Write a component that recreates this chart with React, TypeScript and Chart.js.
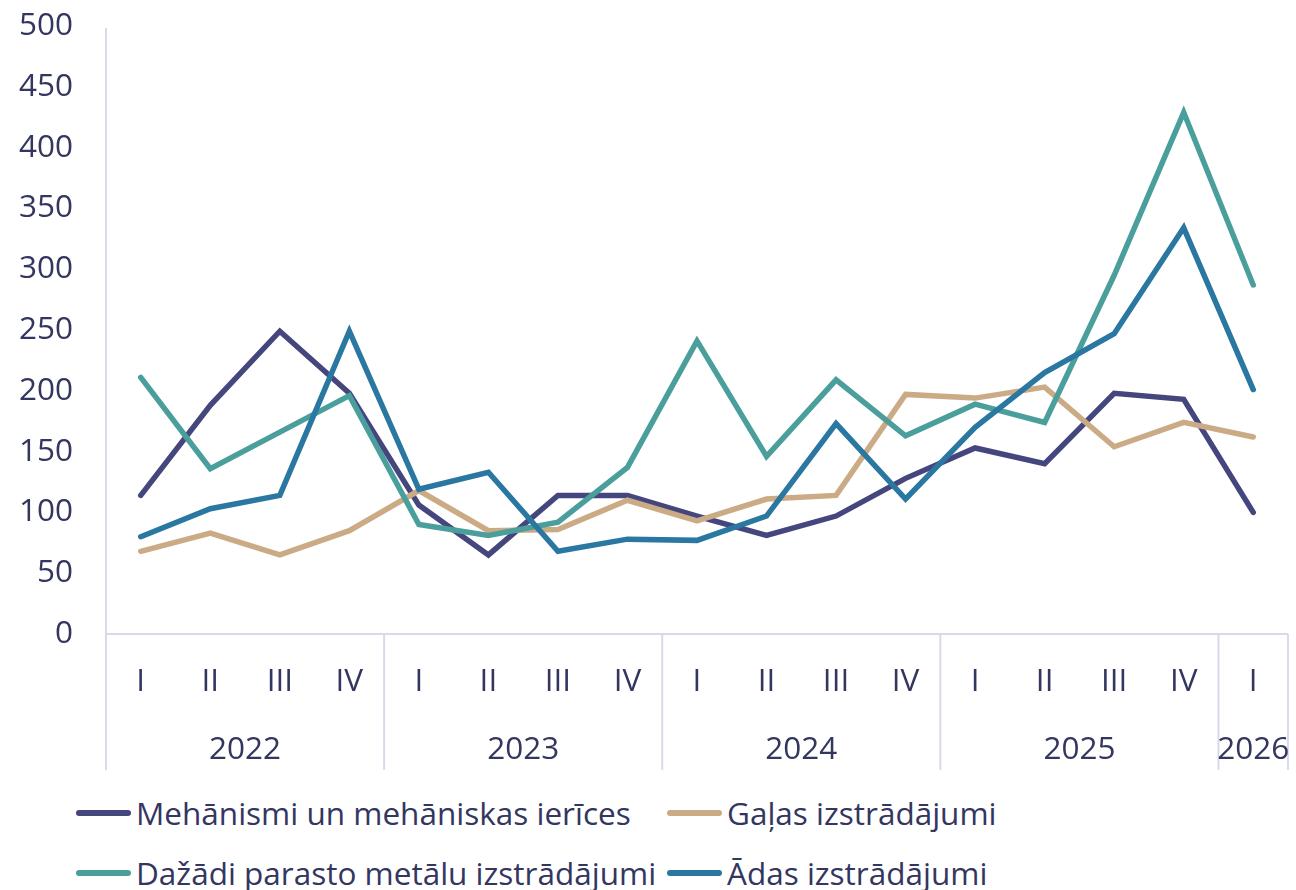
import React, { useEffect, useRef } from "react";
import { Chart, registerables } from "chart.js";

Chart.register(...registerables);

const quarters = ["I", "II", "III", "IV", "I", "II", "III", "IV", "I", "II", "III", "IV", "I", "II", "III", "IV", "I"];
const years = ["2022", "2023", "2024", "2025", "2026"];
const yearSpans = [4, 4, 4, 4, 1];

const seriesNames = [
  "Mehānismi un mehāniskas ierīces",
  "Gaļas izstrādājumi",
  "Dažādi parasto metālu izstrādājumi",
  "Ādas izstrādājumi",
];
const mehanismi = [114, 188, 249, 198, 106, 65, 114, 114, 97, 81, 97, 128, 153, 140, 198, 193, 100];
const galas = [68, 83, 65, 85, 118, 85, 86, 110, 93, 111, 114, 197, 194, 203, 154, 174, 162];
const metali = [211, 136, 166, 196, 90, 81, 92, 137, 241, 146, 209, 163, 189, 174, 295, 429, 287];
const adas = [80, 103, 114, 249, 119, 133, 68, 78, 77, 97, 173, 111, 170, 215, 247, 334, 201];

const yMin = 0;
const yMax = 500;
const yStep = 50;

const colors = ["#46467f", "#cbab85", "#4a9f9c", "#2a77a1"];
const TEXT = "#33365f";
const GRID = "#d9d9ec";
const FONT = "'Open Sans', 'Noto Sans', sans-serif";
const FS = 31.5;

const groupPlugin = {
  id: "groupAxis",
  beforeDatasetsDraw(chart: any) {
    const { ctx, chartArea } = chart;
    const xs = chart.scales.x;
    const step = xs.getPixelForTick(1) - xs.getPixelForTick(0);
    const lower = chartArea.bottom + 136;
    ctx.save();
    ctx.strokeStyle = GRID;
    ctx.lineWidth = 2;
    ctx.beginPath();
    ctx.moveTo(chartArea.left, chartArea.top + 2);
    ctx.lineTo(chartArea.left, lower);
    ctx.moveTo(chartArea.left, chartArea.bottom);
    ctx.lineTo(chartArea.right, chartArea.bottom);
    ctx.stroke();
    ctx.fillStyle = TEXT;
    ctx.font = `${FS}px ${FONT}`;
    ctx.textAlign = "center";
    ctx.textBaseline = "middle";
    let idx = 0;
    years.forEach((yr, i) => {
      const start = xs.getPixelForTick(idx) - step / 2;
      const end = xs.getPixelForTick(idx + yearSpans[i] - 1) + step / 2;
      ctx.beginPath();
      ctx.moveTo(end, chartArea.bottom);
      ctx.lineTo(end, lower);
      ctx.stroke();
      ctx.fillText(yr, (start + end) / 2, chartArea.bottom + 116);
      idx += yearSpans[i];
    });
    ctx.restore();
  },
};

export default function App() {
  const ref = useRef<HTMLCanvasElement>(null);

  useEffect(() => {
    if (!ref.current) return;
    const data = [mehanismi, galas, metali, adas];
    const chart = new Chart(ref.current, {
      type: "line",
      data: {
        labels: quarters,
        datasets: data.map((d, i) => ({
          label: seriesNames[i],
          data: d,
          borderColor: colors[i],
          backgroundColor: colors[i],
          borderWidth: 5.5,
          pointRadius: 0,
          tension: 0,
          borderCapStyle: "round" as const,
          order: 4 - i,
        })),
      },
      options: {
        animation: false,
        responsive: false,
        layout: { padding: { top: 26, right: 8, left: 0, bottom: 0 } },
        plugins: {
          legend: { display: false },
          tooltip: { enabled: false },
        },
        scales: {
          x: {
            type: "category",
            offset: true,
            grid: { display: false, drawTicks: false },
            border: { display: false },
            ticks: {
              color: TEXT,
              font: { family: FONT, size: FS },
              padding: 29,
              maxRotation: 0,
              autoSkip: false,
            },
            afterFit: (s: any) => {
              s.height = 156;
            },
          },
          y: {
            min: yMin,
            max: yMax,
            grid: {
              display: true,
              drawOnChartArea: false,
              drawTicks: true,
              tickLength: 28,
              color: "rgba(0,0,0,0)",
            },
            border: { display: false },
            ticks: {
              stepSize: yStep,
              color: TEXT,
              font: { family: FONT, size: FS },
              padding: 5,
            },
            afterFit: (s: any) => {
              s.width = 106;
            },
          },
        },
      },
      plugins: [groupPlugin],
    });
    (document as any).fonts?.ready?.then(() => chart.update());
    return () => chart.destroy();
  }, []);

  const legendRows = [
    [0, 1],
    [2, 3],
  ];
  const rowY = [813, 873];
  const colX = [76, 667];

  return (
    <div
      style={{
        position: "fixed",
        left: 0,
        top: 0,
        width: 1296,
        height: 890,
        background: "#fff",
        overflow: "hidden",
      }}
    >
      <canvas ref={ref} width={1296} height={790} style={{ display: "block" }} />
      {legendRows.map((row, r) =>
        row.map((si, c) => (
          <div
            key={si}
            style={{
              position: "absolute",
              left: colX[c],
              top: rowY[r] - 20,
              height: 40,
              display: "flex",
              alignItems: "center",
              whiteSpace: "nowrap",
            }}
          >
            <span
              style={{
                display: "inline-block",
                width: 55,
                height: 6,
                borderRadius: 3,
                background: colors[si],
                marginRight: 5,
                marginTop: -1,
              }}
            />
            <span
              style={{
                fontFamily: FONT,
                fontSize: FS,
                lineHeight: 1,
                color: TEXT,
              }}
            >
              {seriesNames[si]}
            </span>
          </div>
        ))
      )}
    </div>
  );
}
